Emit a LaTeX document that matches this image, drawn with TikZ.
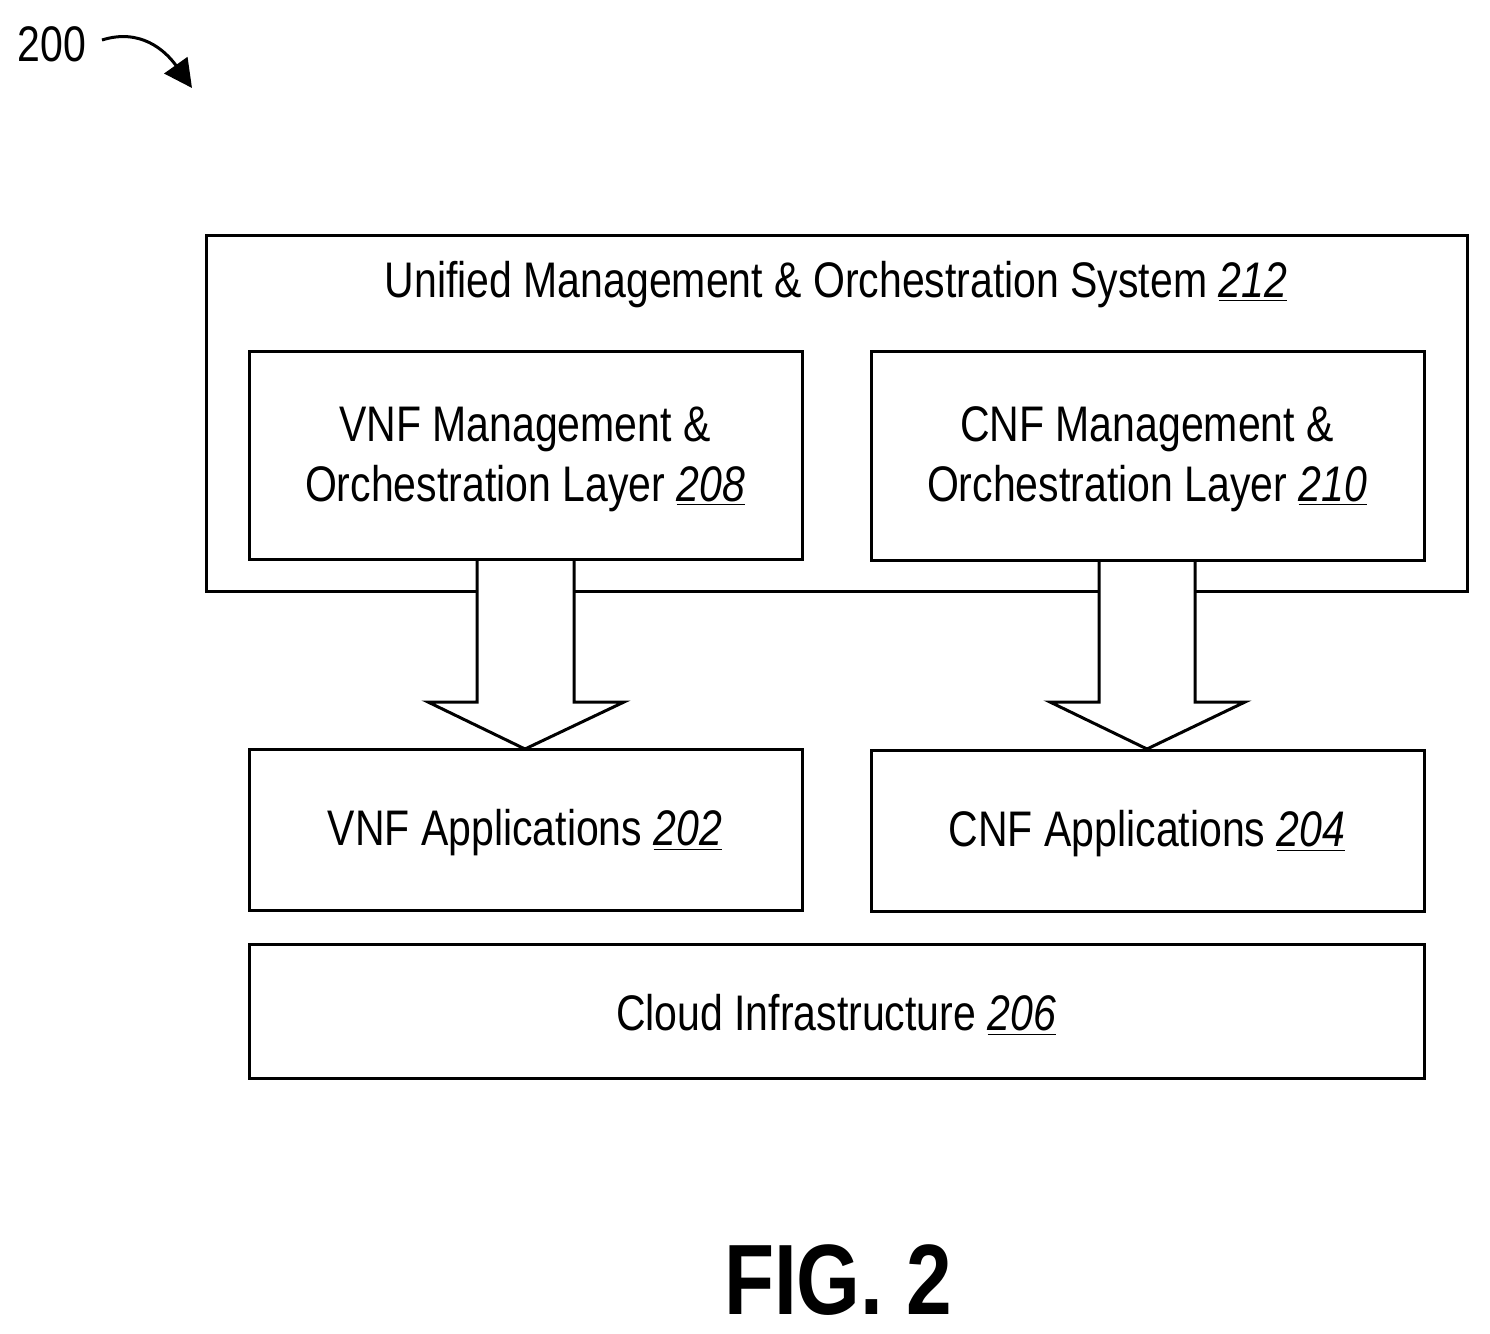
\documentclass[tikz,border=0pt]{standalone}
\usepackage{fontspec}
\setmainfont{Liberation Sans}[FakeStretch=0.82]
\usetikzlibrary{arrows.meta}
\newcommand{\refn}[1]{\underline{\textit{#1}}}
\begin{document}
\begin{tikzpicture}[x=0.5pt,y=-0.5pt,
  box/.style={draw,line width=1.5pt},
  lbl/.style={font=\fontsize{25}{30}\selectfont,align=center},
  fat/.style={draw,line width=1.5pt,fill=white}]
\useasboundingbox (0,0) rectangle (1490,1334);
\draw[box] (206,235) rectangle (1467,591);
\node[lbl] (t212) at (836,285) {Unified Management \& Orchestration System \refn{212}};
\draw[box] (249,351) rectangle (802,559);
\node[lbl] (t208) at (525,459) {VNF Management \&\\Orchestration Layer \refn{208}};
\draw[box] (871,351) rectangle (1424,560);
\node[lbl] (t210) at (1147,459) {CNF Management \&\\Orchestration Layer \refn{210}};
\draw[box] (249,749) rectangle (802,910);
\node[lbl] (t202) at (525,833) {VNF Applications \refn{202}};
\draw[box] (871,750) rectangle (1424,911);
\node[lbl] (t204) at (1147,834) {CNF Applications \refn{204}};
\draw[box] (249,944) rectangle (1424,1078);
\node[lbl] (t206) at (836,1015) {Cloud Infrastructure \refn{206}};
\draw[fat] (477,561) -- (477,702) -- (428,702) -- (525,749) -- (624,702) -- (574,702) -- (574,561);
\draw[fat] (1099,562) -- (1099,702) -- (1050,702) -- (1147,749) -- (1245,702) -- (1195,702) -- (1195,562);
\node[font=\fontsize{25}{30}\selectfont] (n200) at (52,44) {200};
\coordinate (a1) at (102,40);
\coordinate (a2) at (192,88);
\draw[line width=1.5pt,-{Triangle[length=14pt,width=14pt]}] (a1) .. controls (140,28) and (165,50) .. (a2);
\node[font=\bfseries\fontsize{50}{60}\selectfont] (fig) at (838,1280) {FIG. 2};
\end{tikzpicture}
\end{document}
